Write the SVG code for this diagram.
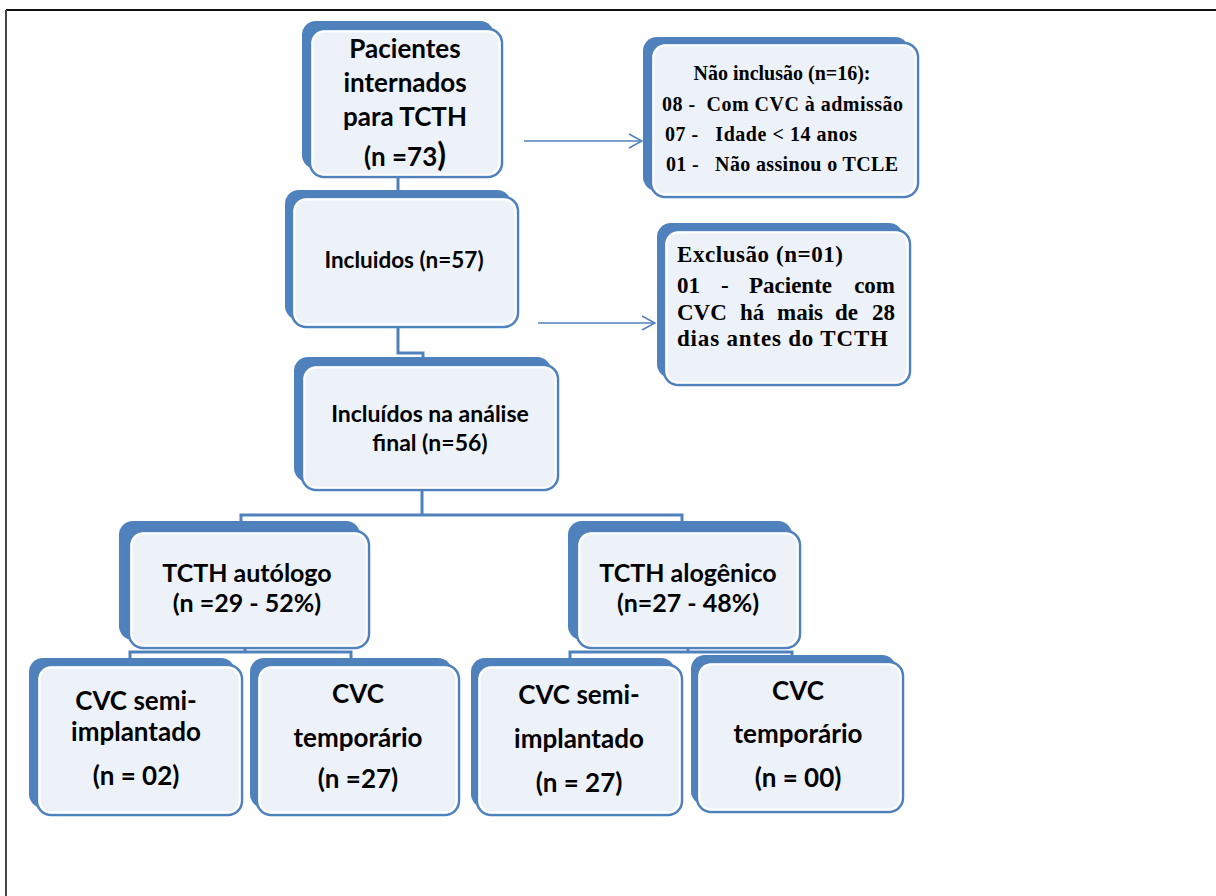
<svg xmlns="http://www.w3.org/2000/svg" width="1216" height="896" viewBox="0 0 1216 896">
<defs>
<style>
.back{fill:#4F81BD}
.front{fill:#EDF2F9;stroke:#4F81BD;stroke-width:2.5}
.inner{fill:none;stroke:#FFFFFF;stroke-width:2}
.t{font-family:Lato,"Open Sans","Liberation Sans",sans-serif;font-weight:bold;fill:#000;text-anchor:middle}
.s{font-family:"Liberation Serif","DejaVu Serif",serif;font-weight:bold;fill:#000;white-space:pre}
.con{fill:none;stroke:#4F81BD;stroke-width:3}
.arr{fill:none;stroke:#4F81BD;stroke-width:1.6}
</style>
<marker id="ah" markerWidth="16" markerHeight="16" viewBox="0 0 16 16" refX="15" refY="8" orient="auto" markerUnits="userSpaceOnUse">
<path d="M2,1 L15,8 L2,15" fill="none" stroke="#4F81BD" stroke-width="1.6"/>
</marker>
</defs>
<rect x="0" y="0" width="1216" height="896" fill="#FFFFFF"/>
<g id="frame">
<line x1="6" y1="10" x2="1216" y2="10" stroke="#111" stroke-width="2"/>
<line x1="6" y1="10" x2="6" y2="896" stroke="#444" stroke-width="2"/>
</g>
<g id="connectors">
<path class="con" d="M398,176 V191" stroke-width="4"/>
<path class="con" d="M398,327 V353 H423 V359"/>
<path class="con" d="M422,490 V515"/>
<path class="con" d="M241,523 V515 H682 V523"/>
<path class="con" d="M245,648 V652"/>
<path class="con" d="M130,659 V652 H351 V659"/>
<path class="con" d="M688,648 V652"/>
<path class="con" d="M570,659 V652 H792 V656"/>
<path class="arr" d="M524,141 H642" marker-end="url(#ah)"/>
<path class="arr" d="M538,323 H655" marker-end="url(#ah)"/>
</g>
<g id="n-pacientes">
<rect class="back" x="302" y="21" width="192" height="148" rx="14"/>
<rect class="front" x="310" y="29" width="192" height="148" rx="14"/>
<rect class="inner" x="312.5" y="31.5" width="187" height="143" rx="12"/>
<text class="t" x="405" y="58" font-size="26">Pacientes</text>
<text class="t" x="405" y="92" font-size="26">internados</text>
<text class="t" x="405" y="126" font-size="26">para TCTH</text>
<text class="t" x="405" y="166" font-size="26">(n =73<tspan font-size="32">)</tspan></text>
</g>
<g id="n-naoinclusao">
<rect class="back" x="643" y="37" width="266" height="154" rx="14"/>
<rect class="front" x="651" y="43" width="267" height="154" rx="14"/>
<rect class="inner" x="653.5" y="45.5" width="262" height="149" rx="12"/>
<text class="s" x="782" y="80" font-size="20" text-anchor="middle">Não inclusão (n=16):</text>
<text class="s" x="662" y="111" font-size="20" textLength="241" lengthAdjust="spacing">08 -  Com CVC à admissão</text>
<text class="s" x="665" y="141" font-size="20" textLength="192" lengthAdjust="spacing">07 -   Idade &lt; 14 anos</text>
<text class="s" x="666" y="171" font-size="20" textLength="232" lengthAdjust="spacing">01 -   Não assinou o TCLE</text>
</g>
<g id="n-incluidos">
<rect class="back" x="285" y="190" width="226" height="130" rx="14"/>
<rect class="front" x="292" y="197" width="226" height="130" rx="14"/>
<rect class="inner" x="294.5" y="199.5" width="221" height="125" rx="12"/>
<text class="t" x="404" y="268" font-size="22.5">Incluidos (n=57)</text>
</g>
<g id="n-exclusao">
<rect class="back" x="657" y="223" width="246" height="155" rx="14"/>
<rect class="front" x="664" y="230" width="246" height="155" rx="14"/>
<rect class="inner" x="666.5" y="232.5" width="241" height="150" rx="12"/>
<text class="s" x="677" y="262" font-size="23" textLength="166" lengthAdjust="spacing">Exclusão (n=01)</text>
<text class="s" y="293" font-size="23"><tspan x="677">01</tspan><tspan x="721">-</tspan><tspan x="749">Paciente</tspan><tspan x="895" text-anchor="end">com</tspan></text>
<text class="s" y="320" font-size="23"><tspan x="677">CVC</tspan><tspan x="740">há</tspan><tspan x="777">mais</tspan><tspan x="835">de</tspan><tspan x="895" text-anchor="end">28</tspan></text>
<text class="s" x="677" y="346" font-size="23" textLength="211" lengthAdjust="spacing">dias antes do TCTH</text>
</g>
<g id="n-analise">
<rect class="back" x="294" y="357" width="257" height="125" rx="14"/>
<rect class="front" x="302" y="365" width="256" height="125" rx="14"/>
<rect class="inner" x="304.5" y="367.5" width="251" height="120" rx="12"/>
<text class="t" x="430" y="422" font-size="23">Incluídos na análise</text>
<text class="t" x="430" y="451" font-size="23">final (n=56)</text>
</g>
<g id="n-autologo">
<rect class="back" x="119" y="521" width="241" height="119" rx="14"/>
<rect class="front" x="129" y="531" width="240" height="117" rx="14"/>
<rect class="inner" x="131.5" y="533.5" width="235" height="112" rx="12"/>
<text class="t" x="247" y="582" font-size="25">TCTH autólogo</text>
<text class="t" x="247" y="612" font-size="25">(n =29 - 52%)</text>
</g>
<g id="n-alogenico">
<rect class="back" x="568" y="521" width="224" height="119" rx="14"/>
<rect class="front" x="577" y="531" width="223" height="117" rx="14"/>
<rect class="inner" x="579.5" y="533.5" width="218" height="112" rx="12"/>
<text class="t" x="688" y="582" font-size="25">TCTH alogênico</text>
<text class="t" x="688" y="612" font-size="25">(n=27 - 48%)</text>
</g>
<g id="n-semi1">
<rect class="back" x="29" y="658" width="206" height="150" rx="14"/>
<rect class="front" x="37" y="665" width="205" height="150" rx="14"/>
<rect class="inner" x="39.5" y="667.5" width="200" height="145" rx="12"/>
<text class="t" x="136" y="710" font-size="26">CVC semi-</text>
<text class="t" x="136" y="741" font-size="26">implantado</text>
<text class="t" x="136" y="785" font-size="26">(n = 02)</text>
</g>
<g id="n-temp1">
<rect class="back" x="250" y="658" width="202" height="150" rx="14"/>
<rect class="front" x="257" y="665" width="202" height="150" rx="14"/>
<rect class="inner" x="259.5" y="667.5" width="197" height="145" rx="12"/>
<text class="t" x="358" y="703" font-size="26">CVC</text>
<text class="t" x="358" y="747" font-size="26">temporário</text>
<text class="t" x="358" y="788" font-size="26">(n =27)</text>
</g>
<g id="n-semi2">
<rect class="back" x="471" y="658" width="204" height="150" rx="14"/>
<rect class="front" x="477" y="665" width="205" height="150" rx="14"/>
<rect class="inner" x="479.5" y="667.5" width="200" height="145" rx="12"/>
<text class="t" x="579" y="704" font-size="26">CVC semi-</text>
<text class="t" x="579" y="748" font-size="26">implantado</text>
<text class="t" x="579" y="792" font-size="26">(n = 27)</text>
</g>
<g id="n-temp2">
<rect class="back" x="691" y="655" width="205" height="150" rx="14"/>
<rect class="front" x="697" y="662" width="206" height="150" rx="14"/>
<rect class="inner" x="699.5" y="664.5" width="201" height="145" rx="12"/>
<text class="t" x="798" y="700" font-size="26">CVC</text>
<text class="t" x="798" y="743" font-size="26">temporário</text>
<text class="t" x="798" y="787" font-size="26">(n = 00)</text>
</g>
</svg>
